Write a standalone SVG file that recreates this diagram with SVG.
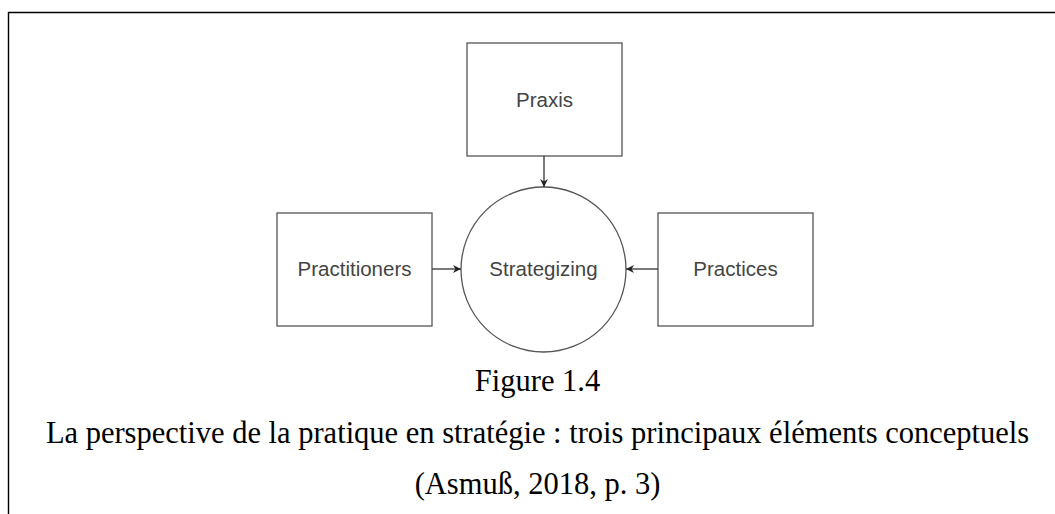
<svg xmlns="http://www.w3.org/2000/svg" width="1055" height="514" viewBox="0 0 1055 514">
  <style>
    .box { fill: #fff; stroke: #555; stroke-width: 1.3; }
    .lbl { font-family: "Liberation Sans", Arial, sans-serif; font-size: 20.5px; fill: #444; text-anchor: middle; }
    .cap { font-family: "Liberation Serif", "Times New Roman", serif; font-size: 30.5px; fill: #000; text-anchor: middle; }
    .edge { stroke: #333; stroke-width: 1.3; fill: none; marker-end: url(#arr); }
  </style>
  <defs>
    <marker id="arr" viewBox="0 0 10 10" refX="10" refY="5" markerWidth="8" markerHeight="8" markerUnits="userSpaceOnUse" orient="auto">
      <path d="M0,0 L10,5 L0,10 L3,5 z" fill="#222"/>
    </marker>
  </defs>
  <rect width="1055" height="514" fill="#fff"/>
  <!-- outer frame -->
  <path d="M8.5,514 V12.5 H1055" fill="none" stroke="#000" stroke-width="1.4"/>

  <g id="praxis">
    <rect class="box" x="467" y="43" width="155" height="113"/>
    <text class="lbl" x="544.5" y="107">Praxis</text>
  </g>
  <g id="practitioners">
    <rect class="box" x="277" y="213" width="155" height="113"/>
    <text class="lbl" x="354.5" y="276">Practitioners</text>
  </g>
  <g id="strategizing">
    <circle class="box" cx="543.5" cy="269.5" r="82.5"/>
    <text class="lbl" x="543.5" y="276">Strategizing</text>
  </g>
  <g id="practices">
    <rect class="box" x="658" y="213" width="155" height="113"/>
    <text class="lbl" x="735.5" y="276">Practices</text>
  </g>

  <g id="connectors">
    <line class="edge" x1="544" y1="156" x2="544" y2="187"/>
    <line class="edge" x1="432" y1="269" x2="461" y2="269"/>
    <line class="edge" x1="658" y1="269" x2="626" y2="269"/>
  </g>

  <g id="caption">
    <text class="cap" x="537.5" y="391">Figure 1.4</text>
    <text class="cap" x="537.5" y="443">La perspective de la pratique en stratégie : trois principaux éléments conceptuels</text>
    <text class="cap" x="537.5" y="494">(Asmuß, 2018, p. 3)</text>
  </g>
</svg>
